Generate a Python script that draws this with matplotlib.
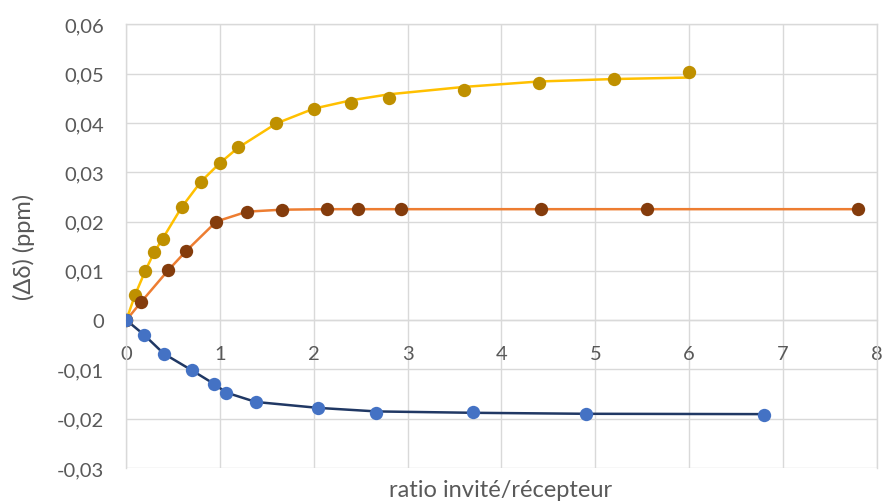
import numpy as np
import matplotlib.pyplot as plt
from matplotlib.ticker import FuncFormatter, MultipleLocator

plt.rcParams['font.family'] = ['Lato', 'DejaVu Sans']

# measured points (markers)
yellow_x = [0, 0.093, 0.2, 0.295, 0.39, 0.59, 0.796, 1.0, 1.194, 1.6, 2.0, 2.4, 2.797, 3.597, 4.4, 5.196, 6.0]
yellow_y = [0, 0.0051, 0.0099, 0.0138, 0.0164, 0.0229, 0.0281, 0.0319, 0.0352, 0.0399, 0.0429, 0.0440,
            0.0450, 0.0467, 0.0481, 0.0490, 0.0503]

orange_x = [0, 0.157, 0.446, 0.637, 0.96, 1.287, 1.66, 2.143, 2.467, 2.93, 4.42, 5.55, 7.80]
orange_y = [0, 0.00365, 0.0101, 0.0140, 0.0200, 0.0220, 0.0224, 0.0225, 0.0225, 0.0225, 0.0225, 0.0225, 0.0225]

blue_x = [0, 0.189, 0.399, 0.70, 0.932, 1.066, 1.38, 2.044, 2.665, 3.70, 4.898, 6.795]
blue_y = [0, -0.00298, -0.00683, -0.0102, -0.0129, -0.01474, -0.01663, -0.01778, -0.01886, -0.01866,
          -0.0190, -0.01927]

# fitted curves
yellow_fit_x = [0, 0.093, 0.2, 0.295, 0.39, 0.59, 0.796, 1.0, 1.194, 1.6, 2.0, 2.4, 2.8, 3.6, 4.4, 5.2, 6.0]
yellow_fit_y = [0, 0.0051, 0.0099, 0.0137, 0.0166, 0.0229, 0.0281, 0.0319, 0.0350, 0.0399, 0.0429, 0.0446,
                0.0458, 0.0473, 0.0484, 0.0489, 0.0492]

orange_fit_x = orange_x
orange_fit_y = orange_y

blue_fit_x = [0, 0.189, 0.399, 0.70, 0.932, 1.066, 1.38, 2.044, 2.665, 3.70, 4.898, 6.795]
blue_fit_y = [0, -0.00298, -0.0068, -0.0102, -0.0129, -0.0147, -0.0166, -0.0178, -0.01852, -0.0188,
              -0.0190, -0.01907]

fig = plt.figure(figsize=(8.84, 5.02), dpi=100)
ax = fig.add_axes([0.1429, 0.0657, 0.8488, 0.8839])

ms = 9.6
lw = 1.8
ax.plot(yellow_fit_x, yellow_fit_y, color='#FFC000', lw=lw, zorder=3)
ax.plot(yellow_x, yellow_y, 'o', color='#BF9000', ms=ms, mec='none', zorder=4)
ax.plot(orange_fit_x, orange_fit_y, color='#ED7D31', lw=lw, zorder=3)
ax.plot(orange_x, orange_y, 'o', color='#843C0C', ms=ms, mec='none', zorder=4)
ax.plot(blue_fit_x, blue_fit_y, color='#203864', lw=lw, zorder=3)
ax.plot(blue_x, blue_y, 'o', color='#4472C4', ms=ms, mec='none', zorder=5)

ax.set_xlim(0, 8)
ax.set_ylim(-0.03, 0.06)
ax.xaxis.set_major_locator(MultipleLocator(1))
ax.yaxis.set_major_locator(MultipleLocator(0.01))

def comma(v, pos):
    if abs(v) < 1e-9:
        return '0'
    return f'{v:.2f}'.replace('.', ',')

ax.yaxis.set_major_formatter(FuncFormatter(comma))
ax.xaxis.set_major_formatter(FuncFormatter(lambda v, p: f'{v:.0f}'))

ax.grid(True, color='#D9D9D9', lw=1.0)
ax.set_axisbelow(True)
for s in ['top', 'right', 'left']:
    ax.spines[s].set_color('#D9D9D9')
    ax.spines[s].set_linewidth(1.0)
ax.spines['bottom'].set_position(('data', 0))
ax.spines['bottom'].set_color('#D9D9D9')
ax.spines['bottom'].set_linewidth(1.0)

ax.tick_params(axis='both', length=0, labelsize=14.5, colors='#595959')
ax.tick_params(axis='y', pad=16)
ax.tick_params(axis='x', pad=18)

fig.text(0.027, 0.508, '(Δδ) (ppm)', rotation=90, ha='center', va='center', fontsize=17, color='#595959')
fig.text(0.566, 0.022, 'ratio invité/récepteur', ha='center', va='center', fontsize=17, color='#595959')

fig.savefig('out.png', dpi=100)
